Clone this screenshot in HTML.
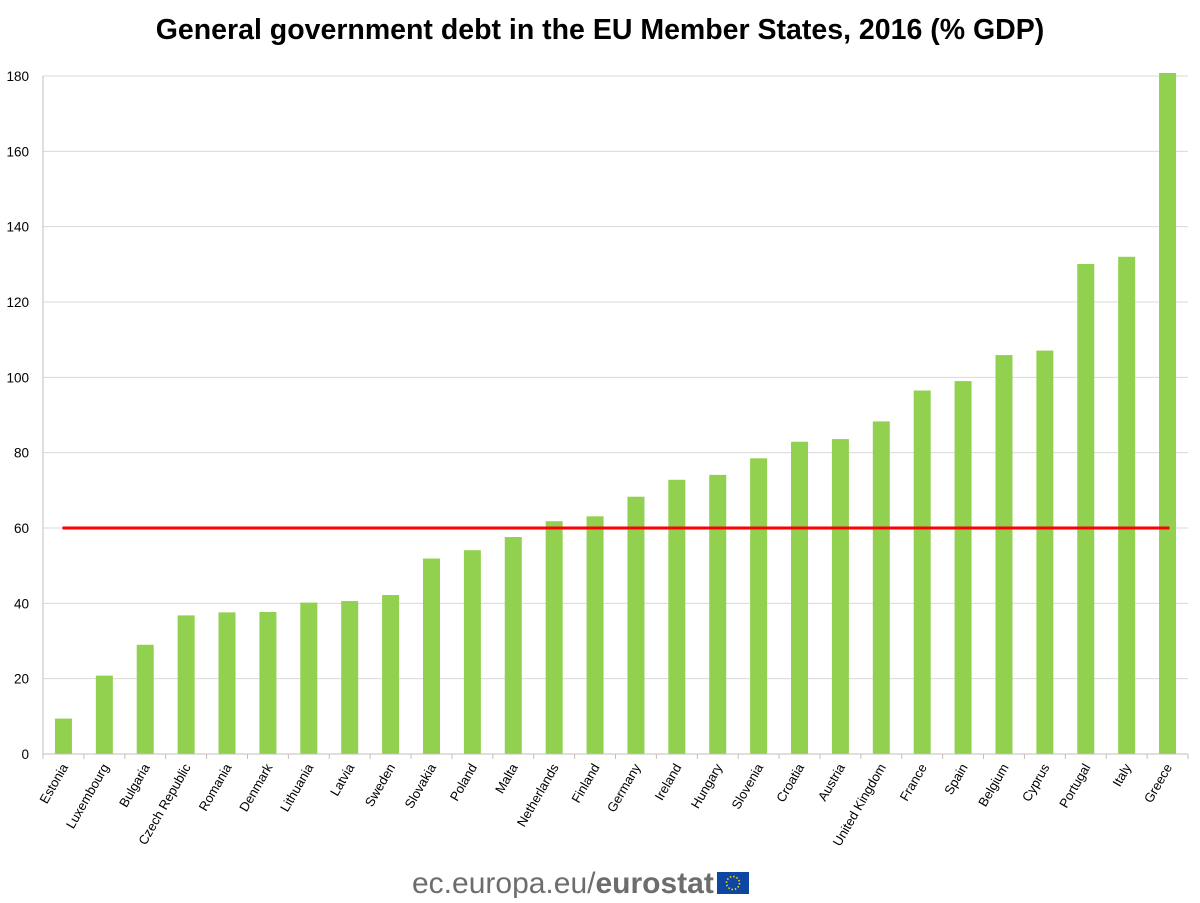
<!DOCTYPE html>
<html><head><meta charset="utf-8"><style>
body{margin:0;background:#fff;width:1200px;height:898px;overflow:hidden;font-family:"Liberation Sans",Arial,sans-serif}
</style></head><body>
<svg width="1200" height="898" xmlns="http://www.w3.org/2000/svg">
<text x="600" y="39" text-anchor="middle" font-size="28.5" font-weight="bold" fill="#000">General government debt in the EU Member States, 2016 (% GDP)</text>
<g id="grid"></g><g id="bars"></g><g id="axes"></g>
<g>
<text x="412" y="893" font-size="30" fill="#6d6d6d">ec.europa.eu/<tspan font-weight="bold">eurostat</tspan></text>
<rect x="717" y="872" width="32" height="22" fill="#0e47a1"/>
<circle cx="733" cy="883" r="6.5" fill="none" stroke="#ffd500" stroke-width="1.6" stroke-dasharray="1.5 1.9"/>
</g>
</svg>
<script>
const categories=["Estonia","Luxembourg","Bulgaria","Czech Republic","Romania","Denmark","Lithuania","Latvia","Sweden","Slovakia","Poland","Malta","Netherlands","Finland","Germany","Ireland","Hungary","Slovenia","Croatia","Austria","United Kingdom","France","Spain","Belgium","Cyprus","Portugal","Italy","Greece"];
const debtValues=[9.4,20.8,29.0,36.8,37.6,37.7,40.2,40.6,42.2,51.9,54.1,57.6,61.8,63.1,68.3,72.8,74.1,78.5,82.9,83.6,88.3,96.5,99.0,105.9,107.1,130.1,132.0,180.8];
const yTicks=[0,20,40,60,80,100,120,140,160,180];
const referenceValue=[60];
const NS="http://www.w3.org/2000/svg";
const x0=43,x1=1188,y0=754,y1=76,yMax=180;
const bw=(x1-x0)/categories.length;
const y=v=>y0-(v/yMax)*(y0-y1);
const xc=i=>x0+bw*(i+0.5);
function mk(t,a,p){const e=document.createElementNS(NS,t);for(const k in a)e.setAttribute(k,a[k]);p.appendChild(e);return e;}
const grid=document.getElementById('grid'),bars=document.getElementById('bars'),axes=document.getElementById('axes');
yTicks.forEach(t=>{
 if(t>0){const l=mk('line',{x1:x0,x2:x1,y1:y(t),y2:y(t),stroke:'#d9d9d9','stroke-width':1},grid);
 
 }
 const tx=mk('text',{x:x0-14,y:y(t)+5,'text-anchor':'end','font-size':13.5,fill:'#000'},axes);
 tx.textContent=t;
 
 
});
debtValues.forEach((v,i)=>{
 const r=mk('rect',{x:xc(i)-8.5,y:y(v),width:17,height:y0-y(v),fill:'#92d050'},bars);
 
 
});
const ax=mk('line',{x1:x0,x2:x1,y1:y0,y2:y0,stroke:'#bfbfbf','stroke-width':1},axes);


const ay=mk('line',{x1:x0,x2:x0,y1:y1,y2:y0,stroke:'#bfbfbf','stroke-width':1},axes);


for(let i=0;i<=categories.length;i++){mk('line',{x1:x0+bw*i,x2:x0+bw*i,y1:y0,y2:y0+5,stroke:'#bfbfbf'},axes);}
categories.forEach((c,i)=>{
 const t=mk('text',{x:0,y:0,'text-anchor':'end','font-size':13,fill:'#000',transform:`translate(${xc(i)+5},${y0+13}) rotate(-60)`},axes);
 t.textContent=c;
 
 
});
const rl=mk('line',{x1:xc(0)-1,x2:xc(categories.length-1)+2,y1:y(referenceValue[0]),y2:y(referenceValue[0]),stroke:'#ff0000','stroke-width':3},axes);


</script>
</body></html>
